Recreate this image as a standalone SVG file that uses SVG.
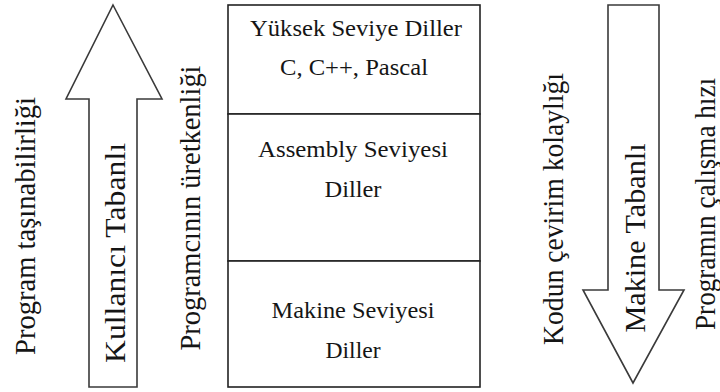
<svg xmlns="http://www.w3.org/2000/svg" width="720" height="392" viewBox="0 0 720 392">
  <style>
    .bg { fill: #ffffff; }
    .arrow { fill: #ffffff; stroke: #3a3a3a; stroke-width: 1.6; stroke-linejoin: miter; }
    .layer { fill: #ffffff; stroke: #222222; stroke-width: 1.6; }
    .t { fill: #151515; font-family: 'Liberation Serif', 'DejaVu Serif', serif; }
    .box { font-size: 23px; text-anchor: middle; }
    .side { font-size: 29px; text-anchor: middle; }
  </style>
  <rect class="bg" x="0" y="0" width="720" height="392"/>

  <!-- upward block arrow: user oriented -->
  <g id="arrow-up">
    <polygon class="arrow" points="113,5 162,99 137,99 137,387 89,387 89,99 66,99"/>
    <text class="t side" font-family="DejaVu Serif" transform="translate(125,253) rotate(-90)" textLength="220" lengthAdjust="spacingAndGlyphs">Kullanıcı  Tabanlı</text>
  </g>

  <!-- downward block arrow: machine oriented -->
  <g id="arrow-down">
    <polygon class="arrow" points="608,5 659,5 659,290 684,290 633,383 583,290 608,290"/>
    <text class="t side" transform="translate(645,238) rotate(-90)" textLength="189" lengthAdjust="spacingAndGlyphs">Makine Tabanlı</text>
  </g>

  <!-- language levels stack -->
  <g id="layer-high">
    <rect class="layer" x="228" y="5" width="252" height="109"/>
    <text class="t box" x="356" y="36" textLength="212" lengthAdjust="spacingAndGlyphs">Yüksek Seviye Diller</text>
    <text class="t box" x="354" y="75" textLength="148" lengthAdjust="spacingAndGlyphs">C, C++, Pascal</text>
  </g>
  <g id="layer-assembly">
    <rect class="layer" x="228" y="114" width="252" height="147"/>
    <text class="t box" x="353" y="157" textLength="190" lengthAdjust="spacingAndGlyphs">Assembly Seviyesi</text>
    <text class="t box" x="353" y="197" textLength="57" lengthAdjust="spacingAndGlyphs">Diller</text>
  </g>
  <g id="layer-machine">
    <rect class="layer" x="228" y="261" width="252" height="126"/>
    <text class="t box" x="353" y="318" textLength="163" lengthAdjust="spacingAndGlyphs">Makine Seviyesi</text>
    <text class="t box" x="353" y="358" textLength="55" lengthAdjust="spacingAndGlyphs">Diller</text>
  </g>

  <!-- side labels -->
  <g id="label-portability">
    <text class="t side" transform="translate(35,226) rotate(-90)" textLength="258" lengthAdjust="spacingAndGlyphs">Program taşınabilirliği</text>
  </g>
  <g id="label-productivity">
    <text class="t side" transform="translate(200,208) rotate(-90)" textLength="285" lengthAdjust="spacingAndGlyphs">Programcının üretkenliği</text>
  </g>
  <g id="label-translation">
    <text class="t side" transform="translate(563,209) rotate(-90)" textLength="272" lengthAdjust="spacingAndGlyphs">Kodun çevirim kolaylığı</text>
  </g>
  <g id="label-speed">
    <text class="t side" transform="translate(715,204) rotate(-90)" textLength="252" lengthAdjust="spacingAndGlyphs">Programın çalışma hızı</text>
  </g>

  <g id="connectors"/>
</svg>
